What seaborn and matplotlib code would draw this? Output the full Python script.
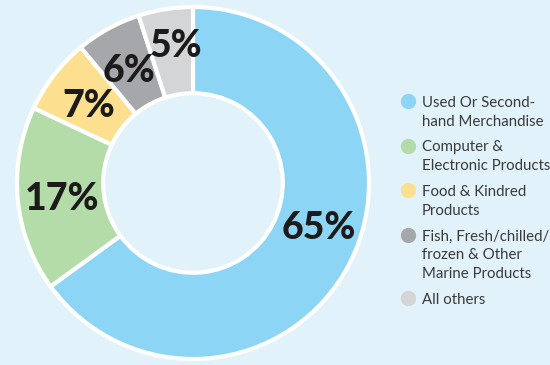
import matplotlib
matplotlib.use("Agg")
import matplotlib.pyplot as plt
import matplotlib.transforms as mtransforms
import seaborn as sns
import numpy as np

categories = ["Used Or Second-\nhand Merchandise",
              "Computer &\nElectronic Products",
              "Food & Kindred\nProducts",
              "Fish, Fresh/chilled/\nfrozen & Other\nMarine Products",
              "All others"]
values = [65, 17, 7, 6, 5]
colors = ["#8dd5f5", "#b3dca8", "#fde08f", "#a6a7aa", "#d4d5d7"]
bg = "#e1f2fb"

sns.set_theme(style="white")
plt.rcParams['font.family'] = ['Lato', 'DejaVu Sans']

W, H = 550, 365
fig = plt.figure(figsize=(W / 100, H / 100), dpi=100, facecolor=bg)
ax = fig.add_axes([17/W, 6/H, 352/W, 352/H])
ax.set_facecolor(bg)

wedges, texts, autotexts = ax.pie(
    values, colors=colors, startangle=90, counterclock=False,
    wedgeprops=dict(width=0.49, edgecolor="white", linewidth=3),
    autopct=lambda p: f"{p:.0f}%", pctdistance=0.75,
    textprops=dict(fontsize=27, fontweight="black", color="#1c1a1a",
                   family=['Lato', 'DejaVu Sans']))
# small angular / radial nudges so labels sit as in the reference
nudges = {0: (9, 0.0), 4: (-2, 0.06)}
for i, (dang, drad) in nudges.items():
    w = wedges[i]
    mid = np.deg2rad((w.theta1 + w.theta2) / 2 + dang)
    r = 0.75 + drad
    autotexts[i].set_position((r * np.cos(mid), r * np.sin(mid)))
shift = mtransforms.offset_copy(ax.transData, fig=fig, x=0, y=-4, units="dots")
for t in autotexts:
    t.set_transform(shift)

ax.set_aspect("equal")
ax.set_xlim(-1.0, 1.0)
ax.set_ylim(-1.0, 1.0)
ax.axis("off")

# legend: marker + multi-line label; va='baseline' anchors the last line
line_step = 18.6
item_gap = 26
y = 107.0
for cat, c in zip(categories, colors):
    n = cat.count("\n") + 1
    last = y + (n - 1) * line_step
    fig.text(422 / W, 1 - last / H, cat, ha="left", va="baseline",
             fontsize=10.8, color="#3a3a3a", linespacing=1.43)
    fig.add_artist(plt.Line2D([408 / W], [1 - (y - 6) / H], marker="o",
                              markersize=10, color=c, linestyle="",
                              transform=fig.transFigure))
    y = last + item_gap

fig.savefig("out.png", dpi=100, facecolor=bg)
